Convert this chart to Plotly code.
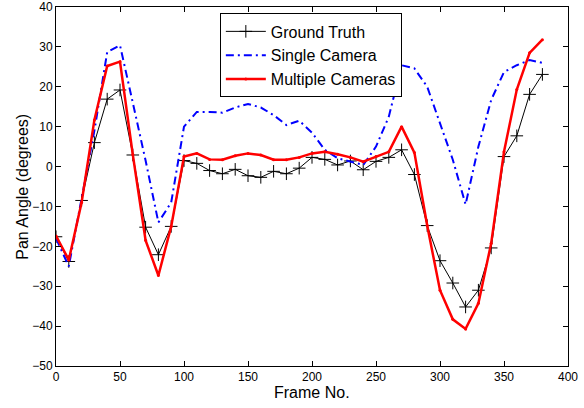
import plotly.graph_objects as go

frames = list(range(0, 390, 10))
ground_truth = [-17.6, -23.8, -8.5, 6.0, 16.9, 19.2, 2.9, -15.2, -22.1, -15.0,
                1.5, 0.8, -1.0, -1.8, -0.7, -2.3, -2.7, -1.2, -1.8, -0.4,
                2.3, 1.8, 0.4, 1.4, -0.8, 1.3, 2.3, 4.2, -2.0, -14.8,
                -23.6, -29.2, -35.2, -31.0, -20.4, 2.5, 7.7, 18.1, 23.1]
single_camera = [-18.0, -25.0, -8.0, 9.0, 28.7, 30.4, 16.0, 1.5, -14.0, -9.0,
                 10.0, 13.7, 13.7, 13.5, 14.8, 15.7, 14.8, 12.9, 10.4, 11.5,
                 8.5, 4.2, 2.1, 1.3, 0.4, 5.0, 12.5, 25.4, 24.6, 20.0,
                 10.8, 1.7, -9.5, 5.0, 16.7, 23.7, 25.4, 26.7, 26.0]
multiple_cameras = [-17.4, -23.4, -9.0, 11.7, 25.2, 26.3, 3.0, -18.5, -27.3, -15.0,
                    2.5, 3.3, 1.8, 1.7, 2.7, 3.3, 2.9, 1.7, 1.7, 2.3,
                    3.3, 3.7, 3.1, 2.3, 1.2, 2.5, 3.7, 10.0, 3.5, -14.8,
                    -31.0, -38.3, -40.7, -34.3, -19.2, 3.7, 19.3, 28.5, 31.8]

x_ticks = [0, 50, 100, 150, 200, 250, 300, 350, 400]
y_ticks = [-50, -40, -30, -20, -10, 0, 10, 20, 30, 40]

FONT = "Liberation Sans, Arial, sans-serif"

fig = go.Figure()
fig.add_trace(go.Scatter(
    x=frames, y=ground_truth, name="Ground Truth", mode="lines+markers",
    line=dict(color="black", width=1),
    marker=dict(symbol="cross-thin", size=9, line=dict(color="black", width=1)),
))
fig.add_trace(go.Scatter(
    x=frames, y=single_camera, name="Single Camera", mode="lines",
    line=dict(color="#0000ff", width=2, dash="8px,4px,2px,4px"),
))
fig.add_trace(go.Scatter(
    x=frames, y=multiple_cameras, name="Multiple Cameras", mode="lines+markers",
    line=dict(color="#ff0000", width=2.5),
    marker=dict(symbol="circle", size=3, color="#ff0000"),
))

axis_common = dict(
    showgrid=False, zeroline=False, showline=True, linecolor="black", linewidth=1,
    mirror="allticks", ticks="inside", ticklen=5, tickcolor="black",
    tickfont=dict(family=FONT, size=12, color="black"),
    automargin=False,
)

fig.update_layout(
    width=584, height=408,
    margin=dict(l=56, r=16, t=7, b=42),
    paper_bgcolor="white", plot_bgcolor="white",
    font=dict(family=FONT, color="black"),
    xaxis=dict(range=[0, 400], tickvals=x_ticks, **axis_common),
    yaxis=dict(range=[-50, 40], tickvals=y_ticks, **axis_common),
    legend=dict(x=0.32, y=0.982, xanchor="left", yanchor="top",
                bgcolor="white", bordercolor="black", borderwidth=1,
                font=dict(size=16), tracegroupgap=0, itemwidth=40),
    showlegend=True,
    annotations=[
        dict(text="Frame No.", xref="paper", yref="paper", x=0.5, y=-0.075,
             xanchor="center", yanchor="middle", showarrow=False,
             font=dict(family=FONT, size=16, color="black")),
        dict(text="Pan Angle (degrees)", xref="paper", yref="paper", x=-0.066, y=0.5,
             xanchor="center", yanchor="middle", textangle=-90, showarrow=False,
             font=dict(family=FONT, size=16, color="black")),
    ],
)

fig.write_html("out.html", config={"displayModeBar": False},
               post_script="document.body.style.margin='0';document.body.style.overflow='hidden';")
